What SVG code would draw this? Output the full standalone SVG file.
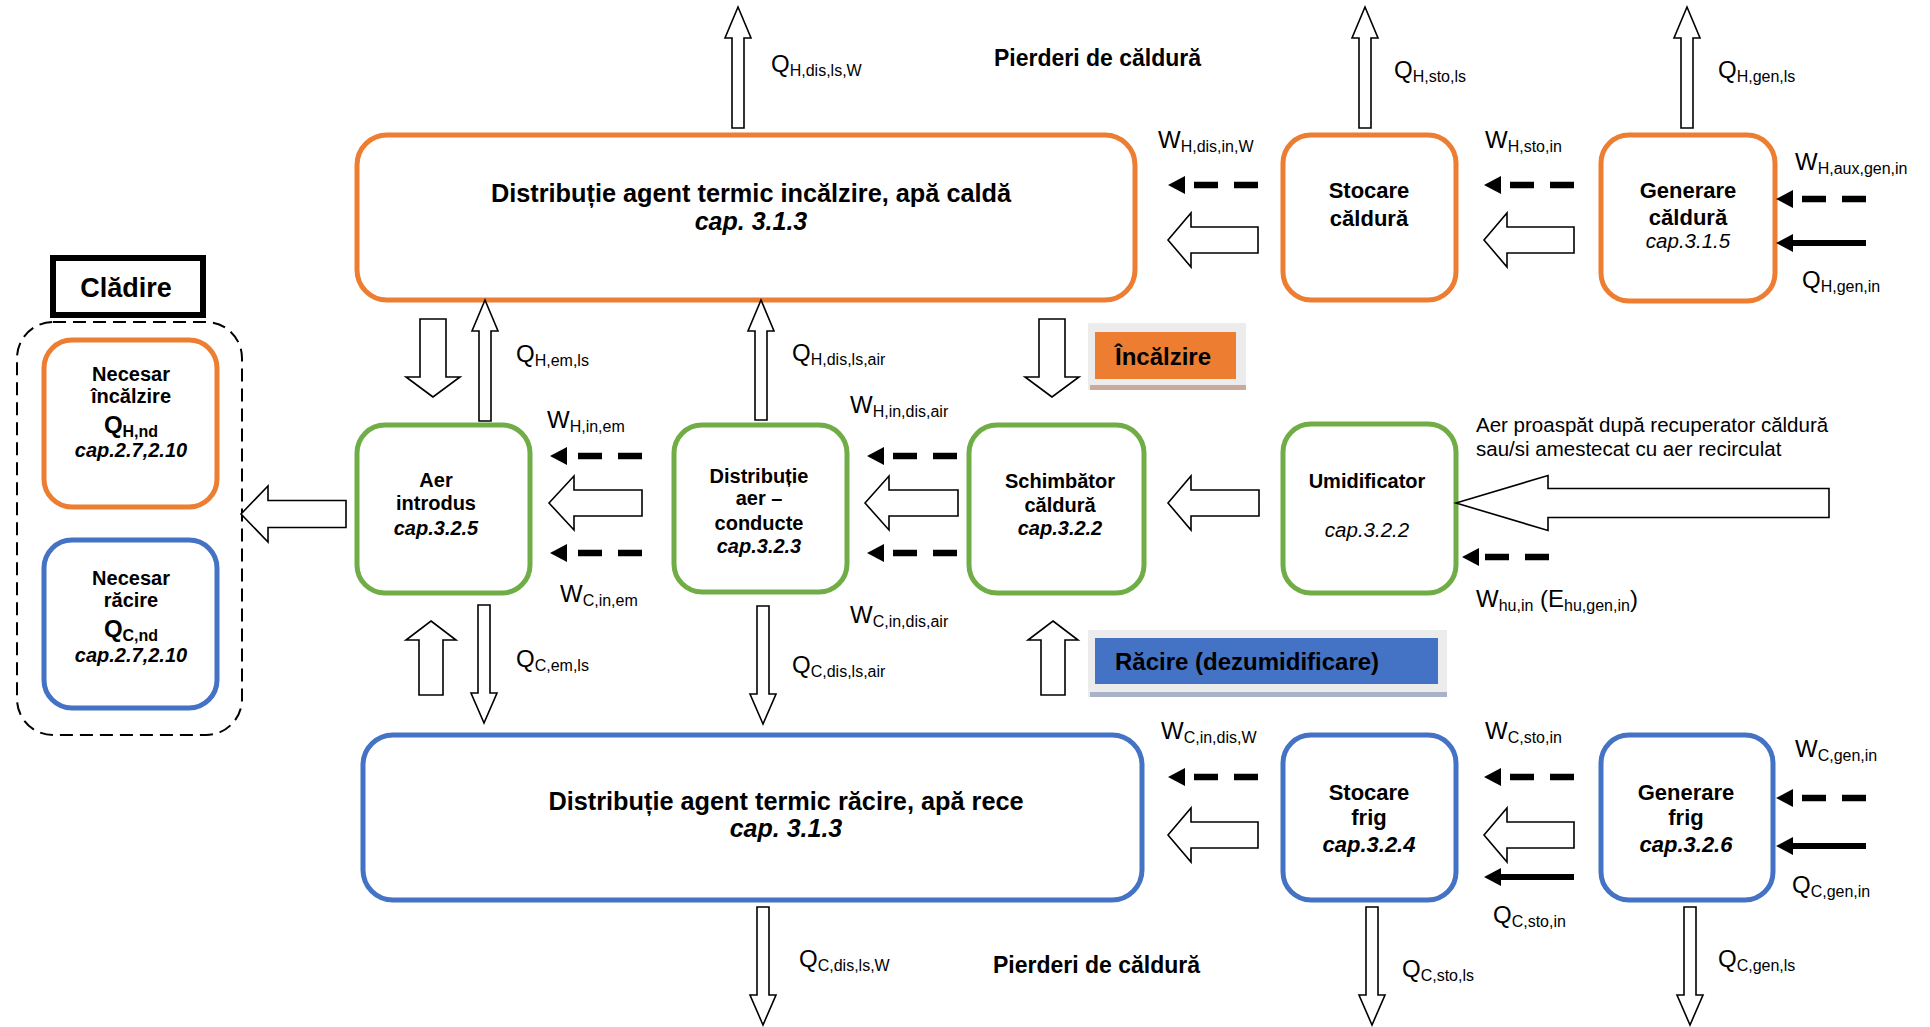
<svg xmlns="http://www.w3.org/2000/svg" width="1930" height="1027" viewBox="0 0 1930 1027">
<style>
text{font-family:"Liberation Sans",Arial,sans-serif;fill:#000}
.l{font-size:24px}
.s{font-size:16px}
.b{font-weight:bold}
.t{font-size:25.3px;font-weight:bold;text-anchor:middle}
.ti{font-size:25px;font-weight:bold;font-style:italic;text-anchor:middle}
.n22{font-size:22px;font-weight:bold;text-anchor:middle}
.n22i{font-size:22px;font-weight:bold;font-style:italic;text-anchor:middle}
.n20{font-size:20px;font-weight:bold;text-anchor:middle}
.n20i{font-size:20px;font-weight:bold;font-style:italic;text-anchor:middle}
.ri{font-size:20.5px;font-style:italic;text-anchor:middle}
.or{fill:#fff;stroke:#ED7D31;stroke-width:5}
.gr{fill:#fff;stroke:#70AD47;stroke-width:5}
.bl{fill:#fff;stroke:#4472C4;stroke-width:5}
.ha{fill:#fff;stroke:#000;stroke-width:1.6;stroke-linejoin:miter}
.da{stroke:#000;stroke-width:6.5;stroke-dasharray:24 16;fill:none}
.so{stroke:#000;stroke-width:6;fill:none}
.hd{fill:#000}
</style>

<!-- Nodes -->
<g id="dist-incalzire">
<rect class="or" x="357" y="135" width="778" height="165" rx="30"/>
<text class="t" x="751" y="202">Distribuție agent termic incălzire, apă caldă</text>
<text class="ti" x="751" y="230">cap. 3.1.3</text>
</g>
<g id="stocare-caldura">
<rect class="or" x="1283" y="135" width="173" height="165" rx="28"/>
<text class="n22" x="1369" y="198">Stocare</text>
<text class="n22" x="1369" y="226">căldură</text>
</g>
<g id="generare-caldura">
<rect class="or" x="1601" y="135" width="174" height="166" rx="28"/>
<text class="n22" x="1688" y="198">Generare</text>
<text class="n22" x="1688" y="225">căldură</text>
<text class="ri" x="1688" y="248">cap.3.1.5</text>
</g>
<g id="cladire">
<rect x="53" y="258" width="150" height="57" fill="#fff" stroke="#000" stroke-width="6"/>
<text class="b" x="126" y="297" font-size="27" text-anchor="middle">Clădire</text>
<rect x="17" y="322" width="225" height="413" rx="36" fill="none" stroke="#000" stroke-width="2" stroke-dasharray="13 7"/>
</g>
<g id="necesar-incalzire">
<rect class="or" x="44" y="340" width="173" height="167" rx="28"/>
<text class="n20" x="131" y="381">Necesar</text>
<text class="n20" x="131" y="403">încălzire</text>
<text class="b" x="131" y="433" font-size="24" text-anchor="middle">Q<tspan font-size="16" dy="4">H,nd</tspan></text>
<text class="n20i" x="131" y="457">cap.2.7,2.10</text>
</g>
<g id="necesar-racire">
<rect class="bl" x="44" y="540" width="173" height="168" rx="28"/>
<text class="n20" x="131" y="585">Necesar</text>
<text class="n20" x="131" y="607">răcire</text>
<text class="b" x="131" y="637" font-size="24" text-anchor="middle">Q<tspan font-size="16" dy="4">C,nd</tspan></text>
<text class="n20i" x="131" y="662">cap.2.7,2.10</text>
</g>
<g id="aer-introdus">
<rect class="gr" x="357" y="425" width="173" height="168" rx="28"/>
<text class="n20" x="436" y="487">Aer</text>
<text class="n20" x="436" y="510">introdus</text>
<text class="n20i" x="436" y="535">cap.3.2.5</text>
</g>
<g id="distributie-aer">
<rect class="gr" x="674" y="425" width="173" height="167" rx="28"/>
<text class="n20" x="759" y="483">Distribuție</text>
<text class="n20" x="759" y="505">aer –</text>
<text class="n20" x="759" y="530">conducte</text>
<text class="n20i" x="759" y="553">cap.3.2.3</text>
</g>
<g id="schimbator">
<rect class="gr" x="969" y="425" width="175" height="168" rx="28"/>
<text class="n20" x="1060" y="488">Schimbător</text>
<text class="n20" x="1060" y="512">căldură</text>
<text class="n20i" x="1060" y="535">cap.3.2.2</text>
</g>
<g id="umidificator">
<rect class="gr" x="1283" y="424" width="173" height="169" rx="28"/>
<text class="n20" x="1367" y="488">Umidificator</text>
<text class="ri" x="1367" y="537">cap.3.2.2</text>
</g>
<g id="dist-racire">
<rect class="bl" x="363" y="735" width="779" height="165" rx="30"/>
<text class="t" x="786" y="810">Distribuție agent termic răcire, apă rece</text>
<text class="ti" x="786" y="837">cap. 3.1.3</text>
</g>
<g id="stocare-frig">
<rect class="bl" x="1283" y="735" width="173" height="165" rx="28"/>
<text class="n22" x="1369" y="800">Stocare</text>
<text class="n22" x="1369" y="825">frig</text>
<text class="n22i" x="1369" y="852">cap.3.2.4</text>
</g>
<g id="generare-frig">
<rect class="bl" x="1601" y="735" width="172" height="165" rx="28"/>
<text class="n22" x="1686" y="800">Generare</text>
<text class="n22" x="1686" y="825">frig</text>
<text class="n22i" x="1686" y="852">cap.3.2.6</text>
</g>
<g id="eticheta-incalzire">
<rect x="1088" y="323" width="158" height="67" fill="#ececec"/>
<rect x="1090" y="385" width="156" height="5" fill="#c9aa9c"/>
<rect x="1095" y="332" width="141" height="47" fill="#ED7D31"/>
<text class="b" x="1115" y="365" font-size="24">Încălzire</text>
</g>
<g id="eticheta-racire">
<rect x="1088" y="630" width="359" height="67" fill="#ececec"/>
<rect x="1090" y="692" width="357" height="5" fill="#a9b2c6"/>
<rect x="1095" y="638" width="343" height="46" fill="#4472C4"/>
<text class="b" x="1115" y="670" font-size="24">Răcire (dezumidificare)</text>
</g>

<!-- Connectors -->
<g id="connectors">
<polygon class="ha" points="738,7 751,38 744,38 744,128 732,128 732,38 725,38"/>
<polygon class="ha" points="1365,7 1378,38 1371,38 1371,128 1359,128 1359,38 1352,38"/>
<polygon class="ha" points="1687,7 1700,38 1693,38 1693,128 1681,128 1681,38 1674,38"/>
<polygon class="ha" points="485,300 498,331 491,331 491,421 479,421 479,331 472,331"/>
<polygon class="ha" points="761,300 774,331 767,331 767,420 755,420 755,331 748,331"/>
<polygon class="ha" points="484,723 471,693 478,693 478,605 490,605 490,693 497,693"/>
<polygon class="ha" points="763,724 750,694 757,694 757,606 769,606 769,694 776,694"/>
<polygon class="ha" points="763,1025 750,995 757,995 757,907 769,907 769,995 776,995"/>
<polygon class="ha" points="1372,1025 1359,995 1366,995 1366,907 1378,907 1378,995 1385,995"/>
<polygon class="ha" points="1690,1025 1677,995 1684,995 1684,907 1696,907 1696,995 1703,995"/>
<polygon class="ha" points="433,397 406,377 420,377 420,319 446,319 446,377 460,377"/>
<polygon class="ha" points="1052,397 1025,377 1039,377 1039,319 1065,319 1065,377 1079,377"/>
<polygon class="ha" points="431,621 456,640 443,640 443,695 419,695 419,640 406,640"/>
<polygon class="ha" points="1053,621 1078,640 1065,640 1065,695 1041,695 1041,640 1028,640"/>
<polygon class="ha" points="241,514 268,486 268,500.5 346,500.5 346,527.5 268,527.5 268,542"/>
<polygon class="ha" points="549,503 574,476 574,490 642,490 642,516 574,516 574,530"/>
<polygon class="ha" points="865,503 889,476 889,490 958,490 958,516 889,516 889,530"/>
<polygon class="ha" points="1168,503 1191,476 1191,490 1259,490 1259,516 1191,516 1191,530"/>
<polygon class="ha" points="1456,503 1548,475.5 1548,488.5 1829,488.5 1829,517.5 1548,517.5 1548,530.5"/>
<polygon class="ha" points="1168,240 1191,213 1191,227 1258,227 1258,253 1191,253 1191,267"/>
<polygon class="ha" points="1484,240 1507,213 1507,227 1574,227 1574,253 1507,253 1507,267"/>
<polygon class="ha" points="1168,835 1191,808 1191,822 1258,822 1258,848 1191,848 1191,862"/>
<polygon class="ha" points="1484,835 1507,808 1507,822 1574,822 1574,848 1507,848 1507,862"/>
<line class="da" x1="1258" y1="185" x2="1184" y2="185"/><polygon class="hd" points="1168,185 1185,176 1185,194"/>
<line class="da" x1="1574" y1="185" x2="1500" y2="185"/><polygon class="hd" points="1484,185 1501,176 1501,194"/>
<line class="da" x1="1866" y1="199" x2="1792" y2="199"/><polygon class="hd" points="1776,199 1793,190 1793,208"/>
<line class="da" x1="642" y1="456" x2="566" y2="456"/><polygon class="hd" points="550,456 567,447 567,465"/>
<line class="da" x1="642" y1="553" x2="566" y2="553"/><polygon class="hd" points="550,553 567,544 567,562"/>
<line class="da" x1="957" y1="456" x2="883" y2="456"/><polygon class="hd" points="867,456 884,447 884,465"/>
<line class="da" x1="957" y1="553" x2="883" y2="553"/><polygon class="hd" points="867,553 884,544 884,562"/>
<line class="da" x1="1549" y1="557" x2="1478" y2="557"/><polygon class="hd" points="1462,557 1479,548 1479,566"/>
<line class="da" x1="1258" y1="777" x2="1184" y2="777"/><polygon class="hd" points="1168,777 1185,768 1185,786"/>
<line class="da" x1="1574" y1="777" x2="1500" y2="777"/><polygon class="hd" points="1484,777 1501,768 1501,786"/>
<line class="da" x1="1866" y1="798" x2="1792" y2="798"/><polygon class="hd" points="1776,798 1793,789 1793,807"/>
<line class="so" x1="1866" y1="243" x2="1790" y2="243"/><polygon class="hd" points="1776,243 1793,234 1793,252"/>
<line class="so" x1="1574" y1="877" x2="1498" y2="877"/><polygon class="hd" points="1484,877 1501,868 1501,886"/>
<line class="so" x1="1866" y1="846" x2="1790" y2="846"/><polygon class="hd" points="1776,846 1793,837 1793,855"/>
</g>

<!-- Labels -->
<g id="labels">
<text class="l" x="771" y="72">Q<tspan class="s" dy="4">H,dis,ls,W</tspan></text>
<text class="b" x="994" y="66" font-size="23">Pierderi de căldură</text>
<text class="l" x="1394" y="78">Q<tspan class="s" dy="4">H,sto,ls</tspan></text>
<text class="l" x="1718" y="78">Q<tspan class="s" dy="4">H,gen,ls</tspan></text>
<text class="l" x="1158" y="148">W<tspan class="s" dy="4">H,dis,in,W</tspan></text>
<text class="l" x="1485" y="148">W<tspan class="s" dy="4">H,sto,in</tspan></text>
<text class="l" x="1795" y="170">W<tspan class="s" dy="4">H,aux,gen,in</tspan></text>
<text class="l" x="1802" y="288">Q<tspan class="s" dy="4">H,gen,in</tspan></text>
<text class="l" x="516" y="362">Q<tspan class="s" dy="4">H,em,ls</tspan></text>
<text class="l" x="792" y="361">Q<tspan class="s" dy="4">H,dis,ls,air</tspan></text>
<text class="l" x="547" y="428">W<tspan class="s" dy="4">H,in,em</tspan></text>
<text class="l" x="850" y="413">W<tspan class="s" dy="4">H,in,dis,air</tspan></text>
<text class="l" x="560" y="602">W<tspan class="s" dy="4">C,in,em</tspan></text>
<text class="l" x="850" y="623">W<tspan class="s" dy="4">C,in,dis,air</tspan></text>
<text class="l" x="516" y="667">Q<tspan class="s" dy="4">C,em,ls</tspan></text>
<text class="l" x="792" y="673">Q<tspan class="s" dy="4">C,dis,ls,air</tspan></text>
<text x="1476" y="432" font-size="20.5">Aer proaspăt după recuperator căldură</text>
<text x="1476" y="456" font-size="20.5">sau/si amestecat cu aer recirculat</text>
<text class="l" x="1476" y="607">W<tspan class="s" dy="4">hu,in</tspan><tspan dy="-4"> (E</tspan><tspan class="s" dy="4">hu,gen,in</tspan><tspan dy="-4">)</tspan></text>
<text class="l" x="1161" y="739">W<tspan class="s" dy="4">C,in,dis,W</tspan></text>
<text class="l" x="1485" y="739">W<tspan class="s" dy="4">C,sto,in</tspan></text>
<text class="l" x="1795" y="757">W<tspan class="s" dy="4">C,gen,in</tspan></text>
<text class="l" x="1792" y="893">Q<tspan class="s" dy="4">C,gen,in</tspan></text>
<text class="l" x="1493" y="923">Q<tspan class="s" dy="4">C,sto,in</tspan></text>
<text class="l" x="799" y="967">Q<tspan class="s" dy="4">C,dis,ls,W</tspan></text>
<text class="b" x="993" y="973" font-size="23">Pierderi de căldură</text>
<text class="l" x="1402" y="977">Q<tspan class="s" dy="4">C,sto,ls</tspan></text>
<text class="l" x="1718" y="967">Q<tspan class="s" dy="4">C,gen,ls</tspan></text>
</g>
</svg>
